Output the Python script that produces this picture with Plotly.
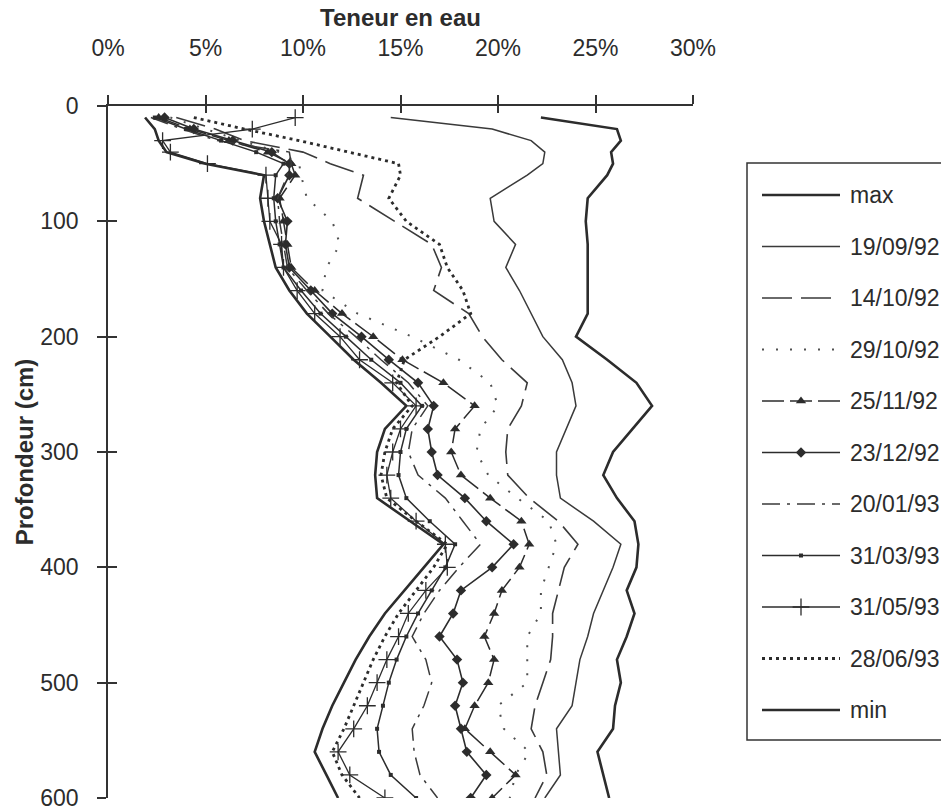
import plotly.graph_objects as go

# Soil moisture profiles: water content (%) versus depth (cm)
depths = [10, 20, 30, 40, 50, 60, 80, 100, 120, 140, 160, 180, 200, 220, 240, 260,
          280, 300, 320, 340, 360, 380, 400, 420, 440, 460, 480, 500, 520, 540, 560,
          580, 600]

series_names = ["max", "19/09/92", "14/10/92", "29/10/92", "25/11/92", "23/12/92",
                "20/01/93", "31/03/93", "31/05/93", "28/06/93", "min"]

wc_max = [22.2, 26.1, 26.3, 25.8, 25.9, 25.6, 24.6, 24.5, 24.6, 24.6, 24.6, 24.6, 24.0,
          25.6, 27.1, 27.9, 26.9, 25.9, 25.4, 26.1, 27.0, 27.2, 27.1, 26.6, 27.0, 26.6,
          26.1, 26.3, 26.0, 25.9, 25.1, 25.4, 25.7]
wc_190992 = [14.5, 19.7, 21.7, 22.4, 22.3, 21.5, 19.6, 19.8, 20.9, 20.4, 21.1, 21.7, 22.3,
             23.3, 23.8, 24.0, 23.5, 23.0, 23.0, 23.2, 24.9, 26.3, 25.9, 25.4, 24.9, 24.6,
             24.2, 24.0, 23.8, 23.0, 23.1, 23.2, 22.4]
wc_141092 = [3.5, 5.5, 7.0, 10.0, 11.4, 13.1, 12.8, 14.7, 16.6, 17.1, 16.7, 18.5, 19.2,
             20.2, 21.5, 21.2, 20.5, 20.4, 20.5, 21.6, 23.1, 24.1, 23.4, 23.1, 22.8, 22.8,
             22.7, 22.3, 21.9, 21.7, 22.3, 22.5, 21.9]
wc_291092 = [3.2, 5.0, 6.8, 8.8, 9.8, 9.9, 10.2, 11.5, 11.9, 11.2, 11.0, 12.8, 15.6,
             18.0, 19.6, 20.0, 19.1, 18.9, 19.5, 21.0, 22.6, 23.0, 22.6, 22.2, 22.2, 21.5,
             21.5, 21.5, 20.0, 20.3, 21.6, 20.9, 20.6]
wc_251192 = [2.6, 4.2, 6.2, 8.2, 9.4, 9.6, 8.8, 9.0, 9.2, 9.4, 10.6, 12.0, 13.6,
             15.1, 17.2, 18.8, 17.8, 17.6, 18.1, 19.6, 21.2, 21.6, 21.1, 20.2, 19.8, 19.3,
             19.8, 19.5, 18.8, 18.3, 19.6, 20.9, 19.7]
wc_231292 = [2.9, 4.4, 6.4, 8.4, 9.3, 9.3, 8.7, 9.2, 9.1, 9.3, 10.4, 11.5, 13.0,
             14.4, 15.9, 16.7, 16.4, 16.6, 16.9, 18.3, 19.4, 20.8, 19.7, 18.1, 17.7, 17.0,
             17.9, 18.2, 17.8, 18.1, 18.4, 19.4, 18.6]
wc_200193 = [2.2, 3.8, 5.6, 9.3, 9.4, 9.2, 8.7, 8.8, 9.0, 9.2, 10.2, 11.3, 12.7,
             14.0, 15.4, 16.4, 15.6, 15.4, 15.9, 17.3, 18.2, 19.1, 18.0, 17.0, 16.2, 15.6,
             16.3, 16.6, 16.2, 15.6, 15.7, 16.0, 16.9]
wc_310393 = [2.4, 4.0, 5.8, 7.6, 9.0, 8.6, 8.5, 8.6, 8.8, 9.0, 9.9, 10.9, 12.2,
             13.5, 15.0, 16.1, 15.3, 15.0, 14.9, 15.3, 16.5, 17.8, 17.3, 16.6, 15.9, 15.3,
             14.8, 14.4, 14.1, 13.8, 13.9, 14.5, 15.8]
wc_310593 = [9.6, 7.4, 2.8, 3.2, 5.1, 8.1, 8.2, 8.3, 8.9, 9.0, 9.7, 10.6, 11.9,
             12.9, 14.6, 15.8, 15.0, 14.6, 14.3, 14.5, 15.8, 17.3, 17.4, 16.3, 15.4, 14.9,
             14.3, 13.8, 13.3, 12.6, 11.8, 12.4, 14.2]
wc_280693 = [4.4, 7.0, 9.8, 12.4, 14.9, 15.0, 14.4, 15.3, 17.0, 17.4, 18.2, 18.6, 17.0,
             15.2, 14.8, 15.6, 14.6, 14.2, 14.0, 14.3, 15.8, 17.4, 16.7, 15.8, 14.9, 14.2,
             13.6, 13.1, 12.6, 12.1, 11.5, 12.0, 12.9]
wc_min = [1.9, 2.4, 2.6, 3.0, 5.0, 8.0, 7.8, 8.0, 8.3, 8.6, 9.3, 10.2, 11.4,
          12.6, 14.0, 15.3, 14.2, 13.8, 13.7, 13.8, 15.5, 17.2, 16.2, 15.2, 14.2, 13.4,
          12.7, 12.1, 11.5, 11.0, 10.6, 11.2, 11.8]

series_values = [wc_max, wc_190992, wc_141092, wc_291092, wc_251192, wc_231292,
                 wc_200193, wc_310393, wc_310593, wc_280693, wc_min]

x_ticks = [0, 5, 10, 15, 20, 25, 30]
x_tick_labels = ["0%", "5%", "10%", "15%", "20%", "25%", "30%"]
y_ticks = [0, 100, 200, 300, 400, 500, 600]

INK = "#2c2c2c"
FONT = "Liberation Sans, Arial, sans-serif"

# Line / marker style of each profile
styles = [
    dict(line=dict(color=INK, width=2.6)),
    dict(line=dict(color="#3a3a3a", width=1.5)),
    dict(line=dict(color="#3a3a3a", width=1.6, dash="30px,9px")),
    dict(line=dict(color="#505050", width=2.0, dash="2px,12px")),
    dict(line=dict(color=INK, width=1.5, dash="22px,6px"),
         marker=dict(symbol="triangle-up", size=9, color=INK)),
    dict(line=dict(color=INK, width=1.6),
         marker=dict(symbol="diamond", size=8, color=INK)),
    dict(line=dict(color="#3a3a3a", width=1.5, dash="18px,7px,3px,7px")),
    dict(line=dict(color=INK, width=1.5),
         marker=dict(symbol="square", size=4, color=INK)),
    dict(line=dict(color=INK, width=1.3),
         marker=dict(symbol="cross-thin", size=12, line=dict(color=INK, width=1.3))),
    dict(line=dict(color=INK, width=2.8, dash="3px,4px")),
    dict(line=dict(color=INK, width=2.6)),
]

fig = go.Figure()

for name, vals, st in zip(series_names, series_values, styles):
    mode = "lines+markers" if "marker" in st else "lines"
    fig.add_trace(go.Scatter(x=vals, y=depths, mode=mode, name=name,
                             showlegend=False, xaxis="x", yaxis="y", **st))

# companion axes carrying the inner half of the crossing tick marks
fig.add_trace(go.Scatter(x=[], y=[], xaxis="x2", yaxis="y2", showlegend=False))

# legend drawn on its own hidden axes, one sample line per profile
LEG_X0, LEG_X1, LEG_MID, LEG_TXT = 762, 840, 801, 848
LEG_Y0, LEG_STEP = 195, 51.5
for i, (name, st) in enumerate(zip(series_names, styles)):
    yy = LEG_Y0 + i * LEG_STEP
    fig.add_trace(go.Scatter(x=[LEG_X0, LEG_X1], y=[yy, yy], mode="lines",
                             line=st["line"], xaxis="x3", yaxis="y3",
                             showlegend=False, hoverinfo="skip"))
    if "marker" in st:
        fig.add_trace(go.Scatter(x=[LEG_MID], y=[yy], mode="markers",
                                 marker=st["marker"], xaxis="x3", yaxis="y3",
                                 showlegend=False, hoverinfo="skip"))
    fig.add_annotation(x=LEG_TXT, y=yy, xref="x3", yref="y3", text=name,
                       showarrow=False, xanchor="left", yanchor="middle",
                       font=dict(family=FONT, size=23, color=INK))

fig.add_shape(type="rect", xref="x3", yref="y3", x0=747, x1=960, y0=163, y1=740,
              line=dict(color="#333333", width=1.5), fillcolor="rgba(0,0,0,0)")

plot_frac = 585 / 833
axis_common = dict(showgrid=False, zeroline=False, linecolor="#333333", linewidth=1.5,
                   tickcolor="#333333", tickwidth=1.5)

fig.update_layout(
    width=941, height=811,
    margin=dict(l=108, r=0, t=106, b=13, pad=0),
    paper_bgcolor="white", plot_bgcolor="white",
    font=dict(family=FONT, color=INK),
    xaxis=dict(domain=[0, plot_frac], range=[0, 30], side="top", anchor="y",
               showline=True, ticks="outside", ticklen=9,
               tickmode="array", tickvals=x_ticks, ticktext=x_tick_labels,
               tickfont=dict(family=FONT, size=23, color=INK),
               ticklabelstandoff=30,
               title=dict(text="<b>Teneur en eau</b>", standoff=2,
                          font=dict(family=FONT, size=24, color=INK)),
               automargin=False, **axis_common),
    xaxis2=dict(domain=[0, plot_frac], matches="x", overlaying="x", side="top",
                anchor="y", ticks="inside", ticklen=7, tickvals=x_ticks,
                showticklabels=False, showline=False, automargin=False,
                **axis_common),
    yaxis=dict(domain=[0, 1], range=[600, 0], anchor="x", showline=True,
               ticks="outside", ticklen=9, tickvals=y_ticks,
               tickfont=dict(family=FONT, size=23, color=INK),
               ticklabelstandoff=14, ticklabeloverflow="allow",
               title=dict(text="<b>Profondeur (cm)</b>", standoff=0,
                          font=dict(family=FONT, size=24, color=INK)),
               automargin=False, **axis_common),
    yaxis2=dict(domain=[0, 1], matches="y", overlaying="y", anchor="x",
                ticks="inside", ticklen=9, tickvals=y_ticks,
                showticklabels=False, showline=False, automargin=False,
                **axis_common),
    xaxis3=dict(domain=[(740 - 108) / 833, 1], range=[740, 941], visible=False,
                anchor="y3", fixedrange=True),
    yaxis3=dict(domain=[0, 1], range=[798, 106], visible=False, anchor="x3",
                fixedrange=True),
)

fig.write_html("out.html")
